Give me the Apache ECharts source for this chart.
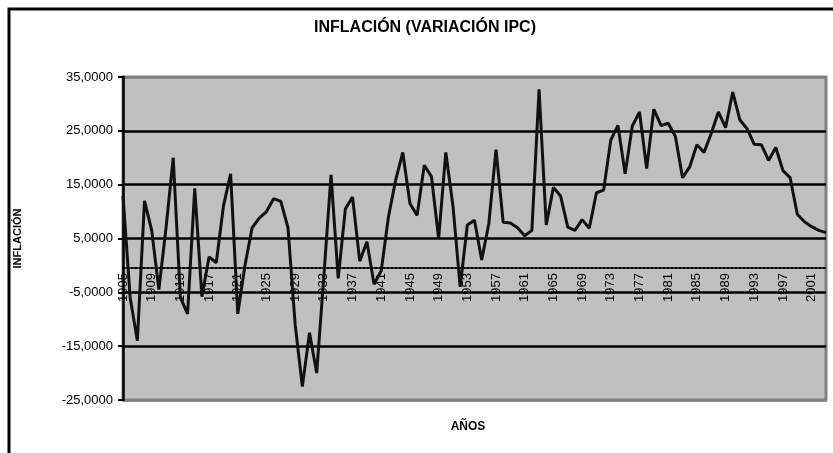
<!DOCTYPE html>
<html>
<head>
<meta charset="utf-8">
<script src="https://cdn.jsdelivr.net/npm/echarts@6/dist/echarts.min.js"></script>
<style>html,body{margin:0;padding:0;background:#fff}#c{width:833px;height:453px}</style>
</head>
<body>
<div id="c"></div>
<script>
const years = ['1905','1906','1907','1908','1909','1910','1911','1912','1913','1914','1915','1916','1917','1918','1919','1920','1921','1922','1923','1924','1925','1926','1927','1928','1929','1930','1931','1932','1933','1934','1935','1936','1937','1938','1939','1940','1941','1942','1943','1944','1945','1946','1947','1948','1949','1950','1951','1952','1953','1954','1955','1956','1957','1958','1959','1960','1961','1962','1963','1964','1965','1966','1967','1968','1969','1970','1971','1972','1973','1974','1975','1976','1977','1978','1979','1980','1981','1982','1983','1984','1985','1986','1987','1988','1989','1990','1991','1992','1993','1994','1995','1996','1997','1998','1999','2000','2001','2002','2003'];
const inflation = [12.9,-6,-14,12,6.5,-4.5,7,20,-6,-9,14.3,-5.8,1.6,0.5,11,17,-9,0,7,8.8,10,12.4,11.9,7,-11,-22.5,-12.5,-20,-2,16.8,-2.4,10.5,12.7,0.8,4.4,-3.5,-1,9,15.8,21,11.5,9.3,18.6,16.5,5,21,11,-4,7.5,8.4,1,7.8,21.5,8,7.9,7,5.5,6.5,32.7,7.5,14.5,12.9,7.1,6.5,8.5,6.9,13.5,14,23.3,26,17,25.9,28.5,18,29,26,26.4,24,16.3,18.3,22.4,21,24.5,28.5,25.6,32.2,27,25.4,22.5,22.4,19.5,21.9,17.6,16.3,9.5,8.1,7.2,6.5,6.1];
const yMin = -25, yMax = 35, yStep = 10;
const titleText = 'INFLACIÓN (VARIACIÓN IPC)';
const yName = 'INFLACIÓN';
const xName = 'AÑOS';

const chart = echarts.init(document.getElementById('c'));
chart.setOption({
  animation: false,
  backgroundColor: '#ffffff',
  graphic: [
    {type:'rect', shape:{x:9,y:9,width:900,height:500}, style:{fill:'none', stroke:'#000', lineWidth:3}, z:10},
    {type:'text', x:425, y:28, style:{text:titleText, font:'bold 16px "Liberation Sans", Arial, sans-serif', fill:'#000', textAlign:'center', textVerticalAlign:'middle'}},
    {type:'text', x:468, y:427, style:{text:xName, font:'bold 12px "Liberation Sans", Arial, sans-serif', fill:'#000', textAlign:'center', textVerticalAlign:'middle'}}
  ],
  grid: {left:123, right:7, top:77, bottom:53, show:true, backgroundColor:'#C0C0C0', borderColor:'#808080', borderWidth:3},
  xAxis: {
    type:'category', data: years, boundaryGap:false, offset:-132,
    axisLine:{onZero:false, lineStyle:{color:'#000', width:2, type:'dotted'}},
    axisTick:{show:false},
    axisLabel:{interval:3, rotate:90, margin:5, color:'#000', fontSize:13, fontFamily:'"Liberation Sans", Arial, sans-serif'},
    splitLine:{show:false}
  },
  yAxis: {
    type:'value', min:yMin, max:yMax, interval:yStep,
    name: yName, nameLocation:'middle', nameGap:100, nameRotate:90,
    nameTextStyle:{color:'#000', fontWeight:'bold', fontSize:11, fontFamily:'"Liberation Sans", Arial, sans-serif'},
    axisLine:{show:true, lineStyle:{color:'#000', width:2.5}},
    axisTick:{show:true, length:5, lineStyle:{color:'#000', width:2}},
    axisLabel:{margin:10, color:'#000', fontSize:13, fontFamily:'"Liberation Sans", Arial, sans-serif', formatter: v => v.toFixed(4).replace('.', ',')},
    splitLine:{show:true, lineStyle:{color:['#808080','#000','#000','#000','#000','#000','#808080'], width:2.5}}
  },
  series: [{type:'line', data: inflation, showSymbol:false, symbol:'none', lineStyle:{color:'#111', width:3}, z:3}]
});
</script>
</body>
</html>
